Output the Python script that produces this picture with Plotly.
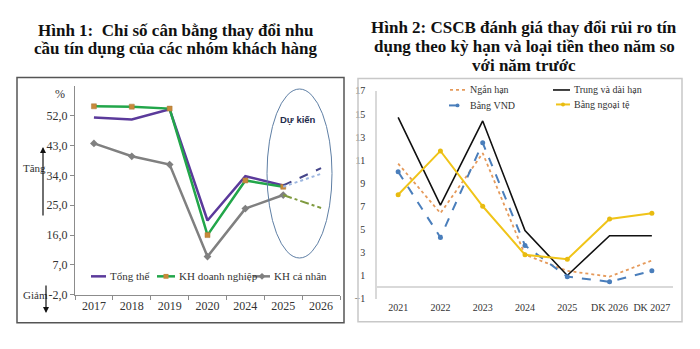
import plotly.graph_objects as go

W, H = 700, 349
def px(x): return x / W
def py(y): return 1 - y / H

# ---------------- data: chart 1 ----------------
years1 = ["2017", "2018", "2019", "2020", "2024", "2025", "2026"]
tong_the = [51.5, 50.9, 54.0, 20.4, 33.8, 31.0]
kh_dn = [54.9, 54.8, 54.2, 16.0, 32.5, 30.6]
kh_cn = [43.7, 39.8, 37.3, 9.5, 24.0, 28.1]
fc_years = ["2025", "2026"]
tong_the_fc = [31.0, 36.2]
kh_dn_fc = [30.6, 34.5]
kh_cn_fc = [28.1, 24.2]
y1_tickvals = [-2, 7, 16, 25, 34, 43, 52]
y1_ticktext = ["-2,0", "7,0", "16,0", "25,0", "34,0", "43,0", "52,0"]

# ---------------- data: chart 2 ----------------
years2 = ["2021", "2022", "2023", "2024", "2025", "DK 2026", "DK 2027"]
ngan_han = [10.7, 6.4, 11.6, 2.8, 1.4, 0.9, 2.3]
trung_dai = [14.7, 7.1, 14.4, 4.9, 1.0, 4.45, 4.45]
vnd = [10.0, 4.3, 12.5, 3.6, 0.9, 0.45, 1.4]
ngoai_te = [8.0, 11.8, 7.0, 2.8, 2.4, 5.9, 6.4]

SERIF = "Liberation Serif"

fig = go.Figure()

# chart 1 traces
fig.add_trace(go.Scatter(x=years1[:6], y=tong_the, mode="lines", name="Tổng thể",
                         line=dict(color="#5b3a9b", width=2.5), xaxis="x", yaxis="y"))
fig.add_trace(go.Scatter(x=years1[:6], y=kh_dn, mode="lines+markers", name="KH doanh nghiệp",
                         line=dict(color="#22a64a", width=2.5),
                         marker=dict(symbol="square", size=5, color="#c8893a",
                                     line=dict(color="#a87a3a", width=0.5)),
                         xaxis="x", yaxis="y"))
fig.add_trace(go.Scatter(x=years1[:6], y=kh_cn, mode="lines+markers", name="KH cá nhân",
                         line=dict(color="#808080", width=2.5),
                         marker=dict(symbol="diamond", size=6, color="#808080"),
                         xaxis="x", yaxis="y"))
fig.add_trace(go.Scatter(x=fc_years, y=tong_the_fc, mode="lines", showlegend=False,
                         line=dict(color="#45458a", width=2, dash="dash"), xaxis="x", yaxis="y"))
fig.add_trace(go.Scatter(x=fc_years, y=kh_dn_fc, mode="lines", showlegend=False,
                         line=dict(color="#9db7e0", width=2, dash="dot"), xaxis="x", yaxis="y"))
fig.add_trace(go.Scatter(x=fc_years, y=kh_cn_fc, mode="lines", showlegend=False,
                         line=dict(color="#7f9a3f", width=2, dash="dashdot"), xaxis="x", yaxis="y"))

# chart 2 traces
fig.add_trace(go.Scatter(x=years2, y=ngan_han, mode="lines", name="Ngắn hạn",
                         line=dict(color="#e59a5b", width=1.8, dash="dot"), xaxis="x2", yaxis="y2"))
fig.add_trace(go.Scatter(x=years2, y=trung_dai, mode="lines", name="Trung và dài hạn",
                         line=dict(color="#111111", width=1.6), xaxis="x2", yaxis="y2"))
fig.add_trace(go.Scatter(x=years2, y=vnd, mode="lines+markers", name="Bằng VND",
                         line=dict(color="#4a7ebb", width=2, dash="dash"),
                         marker=dict(size=5, color="#4a7ebb"), xaxis="x2", yaxis="y2"))
fig.add_trace(go.Scatter(x=years2, y=ngoai_te, mode="lines+markers", name="Bằng ngoại tệ",
                         line=dict(color="#f0c419", width=2),
                         marker=dict(size=5, color="#e8bb10"), xaxis="x2", yaxis="y2"))

shapes = []
annotations = []

# outer boxes
shapes.append(dict(type="rect", xref="paper", yref="paper", x0=px(17), x1=px(344),
                   y0=py(329), y1=py(75), line=dict(color="#555555", width=1.5)))
shapes.append(dict(type="rect", xref="paper", yref="paper", x0=px(358), x1=px(682),
                   y0=py(328), y1=py(76), line=dict(color="#c8c8c8", width=1.5)))
# forecast ellipse
shapes.append(dict(type="circle", xref="paper", yref="paper", x0=px(267), x1=px(332),
                   y0=py(262), y1=py(87), line=dict(color="#5f7fa5", width=1)))

# titles
def text(x, y, s, size, bold=False, family=SERIF, color="#111111", xanchor="center"):
    annotations.append(dict(x=px(x), y=py(y), xref="paper", yref="paper",
                            text=("<b>%s</b>" % s) if bold else s, showarrow=False,
                            xanchor=xanchor, yanchor="middle",
                            font=dict(family=family, size=size, color=color)))

text(175, 26, "Hình 1:  Chỉ số cân bằng thay đổi nhu", 17, bold=True)
text(175, 45, "cầu tín dụng của các nhóm khách hàng", 17, bold=True)
text(524, 23, "Hình 2: CSCB đánh giá thay đổi rủi ro tín", 17, bold=True)
text(524, 43, "dụng theo kỳ hạn và loại tiền theo năm so", 17, bold=True)
text(524, 63, "với năm trước", 17, bold=True)

text(298, 119, "Dự kiến", 9.5, bold=True, family="Liberation Sans", color="#1f2d4d")
text(60, 92, "%", 12, color="#333333")
text(34, 169, "Tăng", 11, color="#333333")
text(35, 300, "Giảm", 11, color="#333333")

# arrows
annotations.append(dict(x=px(43), y=py(147), xref="paper", yref="paper", text="",
                        showarrow=True, ax=0, ay=70, arrowhead=2, arrowsize=1,
                        arrowwidth=1.2, arrowcolor="#111111"))
annotations.append(dict(x=px(46), y=py(319), xref="paper", yref="paper", text="",
                        showarrow=True, ax=0, ay=-29, arrowhead=2, arrowsize=1,
                        arrowwidth=1.2, arrowcolor="#111111"))

# manual legends
def swatch(x0, x1, y, color, width, dash="solid"):
    shapes.append(dict(type="line", xref="paper", yref="paper", x0=px(x0), x1=px(x1),
                       y0=py(y), y1=py(y), line=dict(color=color, width=width, dash=dash)))

swatch(91, 106, 281, "#5b3a9b", 2.5)
text(108, 281, "Tổng thể", 11, color="#333333", xanchor="left")
swatch(157, 175, 281, "#22a64a", 2.5)
shapes.append(dict(type="rect", xref="paper", yref="paper", x0=px(163.5), x1=px(168.5),
                   y0=py(283.5), y1=py(278.5), fillcolor="#c8893a", line=dict(width=0)))
text(177, 281, "KH doanh nghiệp", 11, color="#333333", xanchor="left")
swatch(253, 270, 281, "#808080", 2.5)
shapes.append(dict(type="path", xref="paper", yref="paper",
                   path="M %f,%f L %f,%f L %f,%f L %f,%f Z" % (px(262), py(277.5), px(265.5), py(281),
                                                             px(262), py(284.5), px(258.5), py(281)),
                   fillcolor="#808080", line=dict(width=0)))
text(272, 281, "KH cá nhân", 11, color="#333333", xanchor="left")

swatch(450, 465, 88, "#e59a5b", 1.8, "dot")
text(468, 88, "Ngắn hạn", 10, color="#333333", xanchor="left")
swatch(449, 466, 104, "#4a7ebb", 2, "dash")
shapes.append(dict(type="circle", xref="paper", yref="paper", x0=px(455.5), x1=px(459.5),
                   y0=py(106), y1=py(102), fillcolor="#4a7ebb", line=dict(width=0)))
text(468, 104, "Bằng VND", 10, color="#333333", xanchor="left")
swatch(553, 570, 88, "#111111", 1.6)
text(572, 88, "Trung và dài hạn", 10, color="#333333", xanchor="left")
swatch(556, 570, 103, "#f0c419", 2)
shapes.append(dict(type="circle", xref="paper", yref="paper", x0=px(561), x1=px(565),
                   y0=py(105), y1=py(101), fillcolor="#e8bb10", line=dict(width=0)))
text(572, 103, "Bằng ngoại tệ", 10, color="#333333", xanchor="left")

fig.update_layout(
    width=W, height=H, margin=dict(l=0, r=0, t=0, b=0),
    paper_bgcolor="white", plot_bgcolor="white", showlegend=False,
    shapes=shapes, annotations=annotations,
    xaxis=dict(domain=[px(75), px(340)], anchor="y", type="category",
               categoryorder="array", categoryarray=years1, range=[-0.5, 6.5],
               showline=True, linecolor="#8c8c8c", linewidth=1, showgrid=False,
               ticks="outside", tickson="boundaries", ticklen=4, tickcolor="#8c8c8c",
               tickfont=dict(family=SERIF, size=12, color="#333333")),
    yaxis=dict(domain=[py(300), py(84)], anchor="x", range=[-2, 61],
               tickvals=y1_tickvals, ticktext=y1_ticktext,
               showline=True, linecolor="#8c8c8c", linewidth=1, showgrid=False, zeroline=False,
               ticks="outside", ticklen=4, tickcolor="#8c8c8c",
               tickfont=dict(family=SERIF, size=12, color="#333333")),
    xaxis2=dict(domain=[px(377), px(673)], anchor="y2", type="category",
                categoryorder="array", categoryarray=years2, range=[-0.5, 6.5],
                showline=False, showgrid=False, ticks="", ticklabelstandoff=1,
                tickfont=dict(family=SERIF, size=10, color="#333333")),
    yaxis2=dict(domain=[py(304), py(89)], anchor="x2", range=[-1, 17],
                tick0=-1, dtick=2, showgrid=False,
                showline=True, linecolor="#d9d9d9", linewidth=1.5,
                zeroline=True, zerolinecolor="#d9d9d9", zerolinewidth=2,
                ticks="", ticklabelstandoff=8,
                tickfont=dict(family=SERIF, size=10, color="#333333")),
)

fig.write_html("out.html")
